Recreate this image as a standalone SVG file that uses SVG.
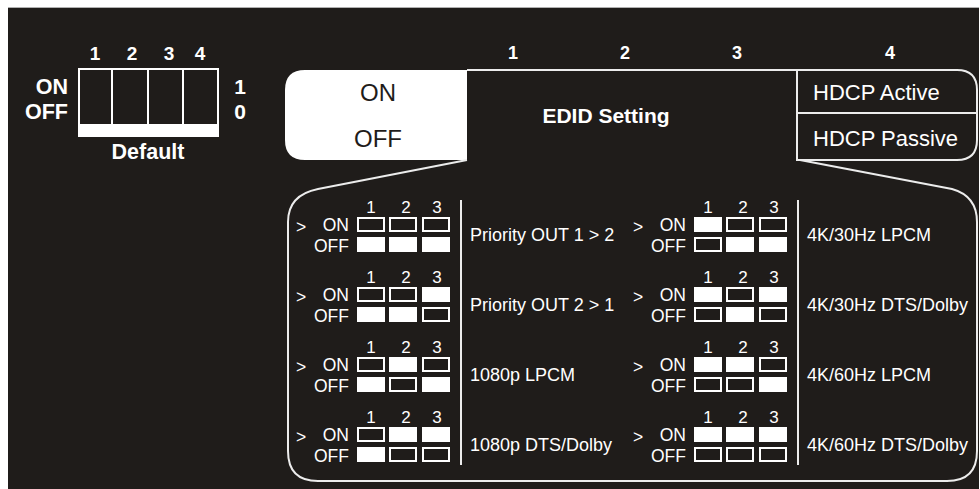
<svg xmlns="http://www.w3.org/2000/svg" xmlns:xlink="http://www.w3.org/1999/xlink" width="980" height="489" viewBox="0 0 980 489">
<style>
text{font-family:"Liberation Sans",Arial,sans-serif;fill:#fff}
.b{font-weight:bold}
.ln{fill:none;stroke:#ececec;stroke-width:2}
.m{text-anchor:middle}
.e{text-anchor:end}
.sm{font-size:17.5px}
.nm{font-size:17px}
.lb{font-size:18px}
</style>
<defs>
<rect id="f" width="28" height="15" fill="#fff"/>
<rect id="o" x="1" y="1" width="26" height="13" fill="none" stroke="#fff" stroke-width="2"/>
<g id="hdr">
<text x="296" y="233" class="sm">&gt;</text>
<text x="349" y="231" class="sm e">ON</text>
<text x="349" y="252" class="sm e">OFF</text>
<text x="371" y="213" class="nm m">1</text>
<text x="406" y="213" class="nm m">2</text>
<text x="437" y="213" class="nm m">3</text>
</g>
</defs>
<rect width="980" height="489" fill="#fff"/>
<rect x="8" y="8" width="971" height="481" fill="#1f1c1a"/>
<line x1="8" y1="7.5" x2="979" y2="7.5" stroke="#b0b0b0" stroke-width="1"/>

<g id="default-switch">
<text x="95" y="60" class="b m" font-size="19">1</text>
<text x="132" y="60" class="b m" font-size="19">2</text>
<text x="169" y="60" class="b m" font-size="19">3</text>
<text x="200" y="60" class="b m" font-size="19">4</text>
<text x="68" y="94" class="b e" font-size="21.5">ON</text>
<text x="68" y="119" class="b e" font-size="21.5">OFF</text>
<text x="240" y="94" class="b m" font-size="21">1</text>
<text x="240" y="119" class="b m" font-size="21">0</text>
<rect x="79" y="69" width="139" height="67" fill="none" stroke="#fff" stroke-width="2"/>
<rect x="79" y="124" width="139" height="13" fill="#fff"/>
<line x1="112" y1="69" x2="112" y2="124" stroke="#fff" stroke-width="2"/>
<line x1="148" y1="69" x2="148" y2="124" stroke="#fff" stroke-width="2"/>
<line x1="183" y1="69" x2="183" y2="124" stroke="#fff" stroke-width="2"/>
<text x="148" y="159" class="b m" font-size="21.5">Default</text>
</g>

<g id="header">
<text x="513" y="59" class="b m" font-size="18">1</text>
<text x="625" y="59" class="b m" font-size="18">2</text>
<text x="737" y="59" class="b m" font-size="18">3</text>
<text x="890" y="59" class="b m" font-size="18">4</text>
</g>

<g id="onoff-box">
<path d="M467,70 L305,70 Q285,70 285,90 L285,140 Q285,160 305,160 L467,160 Z" fill="#fff"/>
<text x="378" y="101" class="m" font-size="24" style="fill:#1f1c1a">ON</text>
<text x="378" y="147" class="m" font-size="24" style="fill:#1f1c1a">OFF</text>
</g>

<g id="edid">
<text x="606" y="123" class="b m" font-size="21">EDID Setting</text>
</g>

<g id="hdcp-box">
<path class="ln" d="M797,160 L797,70 L957,70 Q977,70 977,90 L977,140 Q977,160 957,160 Z"/>
<line class="ln" x1="797" y1="113" x2="977" y2="113"/>
<text x="813" y="100" font-size="22">HDCP Active</text>
<text x="813" y="146" font-size="22">HDCP Passive</text>
</g>

<g id="connectors">
<line class="ln" x1="467" y1="70" x2="797" y2="70"/>
<path class="ln" d="M467,160 L318,189 Q288,195 288,222 L288,451 Q288,481 318,481 L947,481 Q977,481 977,451 L977,222 Q977,196 952,189 L800,160"/>
<line class="ln" x1="461" y1="200" x2="461" y2="465"/>
<line class="ln" x1="798" y1="200" x2="798" y2="465"/>
</g>

<g id="row-priority-1-2">
<use xlink:href="#hdr"/>
<use xlink:href="#o" x="357" y="217"/><use xlink:href="#o" x="389" y="217"/><use xlink:href="#o" x="422" y="217"/>
<use xlink:href="#f" x="357" y="237"/><use xlink:href="#f" x="389" y="237"/><use xlink:href="#f" x="422" y="237"/>
<text x="470" y="241" class="lb">Priority OUT 1 &gt; 2</text>
</g>
<g id="row-priority-2-1" transform="translate(0,70)">
<use xlink:href="#hdr"/>
<use xlink:href="#o" x="357" y="217"/><use xlink:href="#o" x="389" y="217"/><use xlink:href="#f" x="422" y="217"/>
<use xlink:href="#f" x="357" y="237"/><use xlink:href="#f" x="389" y="237"/><use xlink:href="#o" x="422" y="237"/>
<text x="470" y="241" class="lb">Priority OUT 2 &gt; 1</text>
</g>
<g id="row-1080p-lpcm" transform="translate(0,140)">
<use xlink:href="#hdr"/>
<use xlink:href="#o" x="357" y="217"/><use xlink:href="#f" x="389" y="217"/><use xlink:href="#o" x="422" y="217"/>
<use xlink:href="#f" x="357" y="237"/><use xlink:href="#o" x="389" y="237"/><use xlink:href="#f" x="422" y="237"/>
<text x="470" y="241" class="lb">1080p LPCM</text>
</g>
<g id="row-1080p-dts" transform="translate(0,210)">
<use xlink:href="#hdr"/>
<use xlink:href="#o" x="357" y="217"/><use xlink:href="#f" x="389" y="217"/><use xlink:href="#f" x="422" y="217"/>
<use xlink:href="#f" x="357" y="237"/><use xlink:href="#o" x="389" y="237"/><use xlink:href="#o" x="422" y="237"/>
<text x="470" y="241" class="lb">1080p DTS/Dolby</text>
</g>
<g id="row-4k30-lpcm" transform="translate(337,0)">
<use xlink:href="#hdr"/>
<use xlink:href="#f" x="357" y="217"/><use xlink:href="#o" x="389" y="217"/><use xlink:href="#o" x="422" y="217"/>
<use xlink:href="#o" x="357" y="237"/><use xlink:href="#f" x="389" y="237"/><use xlink:href="#f" x="422" y="237"/>
<text x="470" y="241" class="lb">4K/30Hz LPCM</text>
</g>
<g id="row-4k30-dts" transform="translate(337,70)">
<use xlink:href="#hdr"/>
<use xlink:href="#f" x="357" y="217"/><use xlink:href="#o" x="389" y="217"/><use xlink:href="#f" x="422" y="217"/>
<use xlink:href="#o" x="357" y="237"/><use xlink:href="#f" x="389" y="237"/><use xlink:href="#o" x="422" y="237"/>
<text x="470" y="241" class="lb">4K/30Hz DTS/Dolby</text>
</g>
<g id="row-4k60-lpcm" transform="translate(337,140)">
<use xlink:href="#hdr"/>
<use xlink:href="#f" x="357" y="217"/><use xlink:href="#f" x="389" y="217"/><use xlink:href="#o" x="422" y="217"/>
<use xlink:href="#o" x="357" y="237"/><use xlink:href="#o" x="389" y="237"/><use xlink:href="#f" x="422" y="237"/>
<text x="470" y="241" class="lb">4K/60Hz LPCM</text>
</g>
<g id="row-4k60-dts" transform="translate(337,210)">
<use xlink:href="#hdr"/>
<use xlink:href="#f" x="357" y="217"/><use xlink:href="#f" x="389" y="217"/><use xlink:href="#f" x="422" y="217"/>
<use xlink:href="#o" x="357" y="237"/><use xlink:href="#o" x="389" y="237"/><use xlink:href="#o" x="422" y="237"/>
<text x="470" y="241" class="lb">4K/60Hz DTS/Dolby</text>
</g>
</svg>
